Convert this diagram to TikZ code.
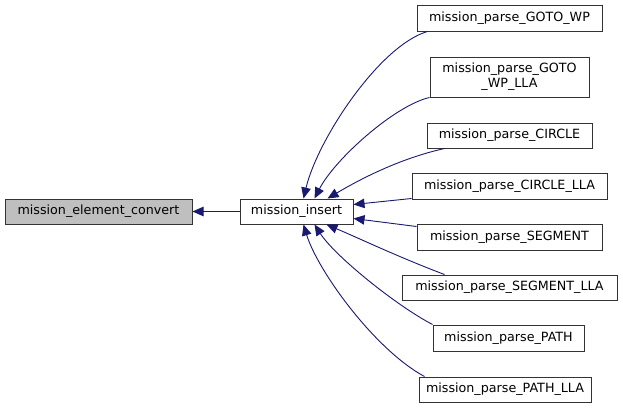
\documentclass[tikz,border=0pt]{standalone}
\usepackage{fontspec}
\setmainfont{DejaVu Sans}
\usetikzlibrary{arrows.meta}
\definecolor{edgeblue}{HTML}{191970}
\definecolor{hlgray}{HTML}{BFBFBF}

\begin{document}
\begin{tikzpicture}[
  x=1pt, y=-1pt,
  fbox/.style={rectangle, draw=black!80, line width=1pt, inner sep=0pt,
               minimum height=25pt, align=center,
               font=\fontsize{12.7}{15}\selectfont},
  cur/.style={fbox, fill=hlgray},
  arr/.style={-{Triangle[length=11pt,width=9.5pt]}, draw=edgeblue, line width=0.9pt},
]
  \useasboundingbox (0,0) rectangle (623,408);

  \node[cur,  minimum width=187pt] (conv) at (98.5,211.5) {mission\_element\_convert};
  \node[fbox, minimum width=113pt] (ins)  at (296.5,211.5) {mission\_insert};

  % callers of mission_insert
  \node[fbox, minimum width=185pt, minimum height=26pt] (gwp)    at (509.5,18)  {mission\_parse\_GOTO\_WP};
  \node[fbox, minimum width=159pt, minimum height=40pt] (gwplla) at (509.5,77)  {mission\_parse\_GOTO\\\_WP\_LLA};
  \node[fbox, minimum width=165pt] (circ)    at (509.5,135.5) {mission\_parse\_CIRCLE};
  \node[fbox, minimum width=195pt, minimum height=26pt] (circlla) at (509.5,186) {mission\_parse\_CIRCLE\_LLA};
  \node[fbox, minimum width=185pt, minimum height=26pt] (seg)     at (509.5,237) {mission\_parse\_SEGMENT};
  \node[fbox, minimum width=215pt] (seglla)  at (509.5,287.5) {mission\_parse\_SEGMENT\_LLA};
  \node[fbox, minimum width=151pt, minimum height=26pt] (pth)     at (508.5,338) {mission\_parse\_PATH};
  \node[fbox, minimum width=172pt] (pthlla)  at (505,389.5) {mission\_parse\_PATH\_LLA};

  \draw[arr] (ins) -- (conv);

  \draw[arr] ([xshift=11pt]gwp.south west) .. controls +(-48,14) and +(14,-59) .. ([xshift=64pt]ins.north west);
  \draw[arr] (gwplla.south west) .. controls +(-35,8) and +(20,-39) .. ([xshift=75pt]ins.north west);
  \draw[arr] ([xshift=18pt]circ.south west) .. controls +(-45,10) and +(32,-19) .. ([xshift=88pt]ins.north west);
  \draw[arr] ([yshift=1pt]circlla.south west) -- ([yshift=-6pt]ins.north east);
  \draw[arr] ([yshift=-3pt]seg.north west) -- ([yshift=6pt]ins.south east);
  \draw[arr] ([xshift=43pt]seglla.north west) .. controls +(-45,-17) and +(33,14) .. ([xshift=87pt]ins.south west);
  \draw[arr] (pth.north west) .. controls +(-38,-20) and +(20,31) .. ([xshift=75pt]ins.south west);
  \draw[arr] ([xshift=6pt]pthlla.north west) .. controls +(-50,-27) and +(14,46) .. ([xshift=64pt]ins.south west);
\end{tikzpicture}
\end{document}
